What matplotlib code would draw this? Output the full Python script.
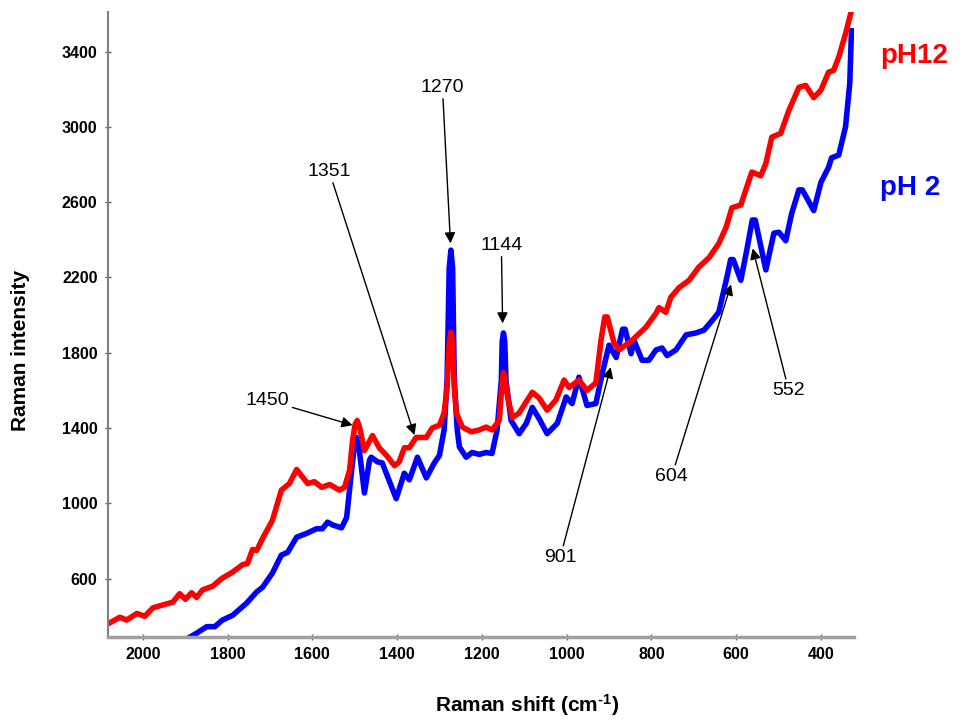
import matplotlib
matplotlib.use("Agg")
import matplotlib.pyplot as plt

plt.rcParams["font.family"] = ["Liberation Sans", "DejaVu Sans"]
plt.rcParams["mathtext.fontset"] = "custom"
plt.rcParams["mathtext.rm"] = "Liberation Sans:bold"
plt.rcParams["mathtext.it"] = "Liberation Sans:bold"
plt.rcParams["mathtext.bf"] = "Liberation Sans:bold"

# Raman spectrum at pH 12
shift_ph12 = [2082, 2054, 2038, 2014, 1995, 1976, 1953, 1929, 1913, 1899, 1885, 1873,
              1859, 1835, 1814, 1788, 1764, 1753, 1741, 1731, 1717, 1694, 1673, 1654,
              1637, 1611, 1595, 1578, 1559, 1536, 1524, 1512, 1505, 1499, 1494, 1488,
              1477, 1458, 1442, 1425, 1406, 1395, 1383, 1371, 1355, 1331, 1317, 1300,
              1289, 1282, 1277, 1273, 1269, 1265, 1260, 1246, 1225, 1206, 1190, 1176,
              1159, 1153, 1149, 1145, 1140, 1128, 1112, 1081, 1065, 1046, 1025, 1006,
              994, 971, 952, 931, 919, 910, 904, 888, 876, 846, 813, 789,
              782, 766, 754, 735, 711, 688, 664, 641, 624, 610, 589, 575,
              563, 542, 530, 516, 495, 476, 452, 436, 417, 400, 382, 370,
              358, 342, 330]
int_ph12 = [360, 395, 380, 415, 400, 445, 460, 475, 520, 490, 525, 500,
            540, 560, 600, 635, 675, 680, 755, 750, 815, 910, 1070, 1105,
            1180, 1105, 1115, 1085, 1100, 1070, 1085, 1175, 1335, 1420, 1440, 1400,
            1280, 1360, 1295, 1255, 1200, 1220, 1295, 1295, 1350, 1350, 1400, 1415,
            1480, 1615, 1850, 1910, 1850, 1615, 1480, 1405, 1380, 1390, 1405, 1390,
            1440, 1615, 1695, 1660, 1575, 1455, 1480, 1590, 1560, 1495, 1550, 1655,
            1615, 1655, 1600, 1640, 1865, 1990, 1990, 1850, 1815, 1865, 1935, 2010,
            2040, 2015, 2095, 2145, 2185, 2255, 2305, 2380, 2465, 2570, 2585, 2680,
            2760, 2740, 2805, 2945, 2965, 3085, 3210, 3220, 3155, 3195, 3290, 3300,
            3370, 3495, 3600]

# Raman spectrum at pH 2
shift_ph2 = [1896, 1873, 1849, 1830, 1812, 1788, 1755, 1731, 1717, 1694, 1673, 1658,
             1637, 1614, 1590, 1576, 1564, 1552, 1531, 1519, 1508, 1500, 1496, 1490,
             1477, 1465, 1461, 1446, 1435, 1402, 1383, 1371, 1352, 1331, 1312, 1300,
             1289, 1282, 1277, 1273, 1269, 1265, 1258, 1253, 1237, 1223, 1206, 1190,
             1176, 1164, 1154, 1152, 1149, 1146, 1143, 1131, 1112, 1095, 1081, 1065,
             1046, 1022, 1001, 987, 971, 952, 931, 916, 900, 883, 868, 862,
             848, 841, 822, 806, 789, 775, 763, 742, 718, 695, 676, 657,
             641, 622, 613, 607, 589, 575, 562, 555, 530, 511, 499, 483,
             469, 452, 444, 434, 417, 400, 382, 375, 358, 342, 332, 328]
int_ph2 = [280, 310, 345, 345, 380, 405, 470, 530, 555, 630, 725, 740,
           820, 840, 865, 865, 900, 885, 870, 925, 1160, 1320, 1350, 1300,
           1055, 1230, 1245, 1220, 1215, 1025, 1160, 1125, 1245, 1135, 1215, 1255,
           1390, 1655, 2250, 2345, 2250, 1655, 1390, 1300, 1245, 1270, 1260, 1270,
           1265, 1390, 1655, 1860, 1905, 1860, 1650, 1440, 1370, 1425, 1510, 1450,
           1370, 1425, 1565, 1530, 1670, 1520, 1530, 1690, 1840, 1775, 1925, 1925,
           1795, 1865, 1760, 1760, 1815, 1825, 1785, 1815, 1895, 1905, 1920, 1970,
           2015, 2200, 2295, 2295, 2185, 2345, 2505, 2505, 2240, 2435, 2440, 2395,
           2540, 2665, 2665, 2625, 2555, 2705, 2785, 2835, 2850, 3000, 3230, 3510]

# band assignments: label, arrow tip, label position
peak_labels = ["1450", "1351", "1270", "1144", "901", "604", "552"]
peak_tips = [(1505, 1415), (1359, 1362), (1274, 2381), (1151, 1956),
             (896, 1723), (612, 2163), (561, 2354)]
label_pos = [(1705, 1548), (1560, 2763), (1293, 3209), (1154, 2370),
             (1015, 714), (752, 1144), (476, 1601)]

fig = plt.figure(figsize=(9.64, 7.21), dpi=100)
ax = fig.add_axes([108 / 964, 1 - 637 / 721, (854 - 108) / 964, (637 - 12) / 721])

ax.plot(shift_ph2, int_ph2, color="#0000ff", lw=4, solid_joinstyle="round")
ax.plot(shift_ph12, int_ph12, color="#ff0000", lw=4, solid_joinstyle="round")

for lab, tip, pos in zip(peak_labels, peak_tips, label_pos):
    ax.annotate(lab, xy=tip, xytext=pos, ha="center", va="center", fontsize=14,
                arrowprops=dict(arrowstyle="-|>", color="black", lw=1,
                                mutation_scale=16, shrinkA=0, shrinkB=0))

ax.set_xlim(2082, 322)
ax.set_ylim(290, 3610)
ax.set_xticks(range(2000, 399, -200))
ax.set_yticks(range(600, 3401, 400))

for side in ("top", "right"):
    ax.spines[side].set_visible(False)
ax.spines["left"].set_color("#808080")
ax.spines["left"].set_linewidth(1.5)
ax.spines["bottom"].set_color("#a0a0a0")
ax.spines["bottom"].set_linewidth(2.5)
ax.tick_params(axis="both", direction="inout", length=5, width=1, color="#606060",
               labelsize=11.5, pad=5)
for lbl in ax.get_xticklabels() + ax.get_yticklabels():
    lbl.set_fontweight("bold")

fig.text(21 / 964, 1 - 350 / 721, "Raman intensity", rotation=90, ha="center",
         va="center", fontsize=15, fontweight="bold")
fig.text(527 / 964, 1 - 705 / 721, r"Raman shift (cm$^{\text{-1}}$)", ha="center",
         va="center", fontsize=15, fontweight="bold")

fig.text(880 / 964, 1 - 63 / 721, "pH12", color="#ff0000", fontsize=20,
         fontweight="bold", va="baseline", ha="left")
fig.text(880 / 964, 1 - 195 / 721, "pH 2", color="#0000ff", fontsize=20,
         fontweight="bold", va="baseline", ha="left")

fig.savefig("out.png", dpi=100)
